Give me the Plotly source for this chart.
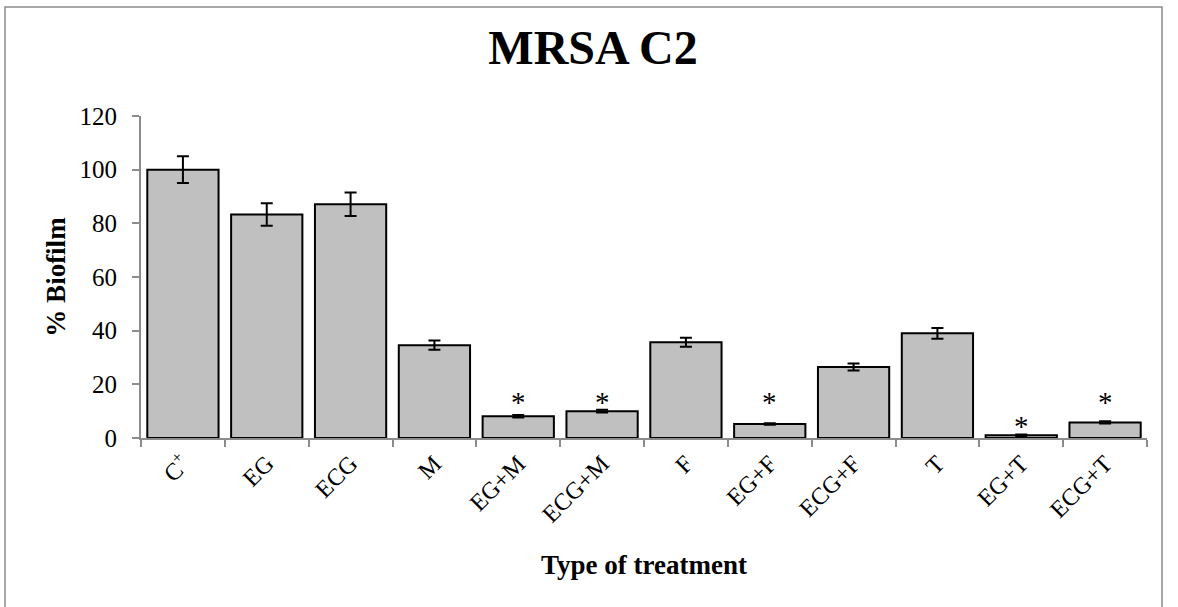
import plotly.graph_objects as go

# Biofilm formation (% of positive control) per treatment
treatments = ["C+", "EG", "ECG", "M", "EG+M", "ECG+M", "F", "EG+F", "ECG+F", "T", "EG+T", "ECG+T"]
tick_text = ["C<sup>+</sup>", "EG", "ECG", "M", "EG+M", "ECG+M", "F", "EG+F", "ECG+F", "T", "EG+T", "ECG+T"]
biofilm = [100, 83.3, 87.1, 34.6, 8.1, 10.0, 35.7, 5.2, 26.5, 39.0, 1.0, 5.8]
sd = [5.0, 4.2, 4.4, 1.7, 0.5, 0.5, 1.7, 0.3, 1.3, 2.0, 0.3, 0.4]

# Significance markers (treatment, height of the asterisk)
sig_treatments = ["EG+M", "ECG+M", "EG+F", "EG+T", "ECG+T"]
sig_heights = [15.3, 15.3, 15.3, 6.5, 15.3]

y_ticks = [0, 20, 40, 60, 80, 100, 120]

W, H = 1178, 607
L, R, T, B = 141, 31, 116, 169
pw, ph = W - L - R, H - T - B

serif = "Liberation Serif, Times New Roman, serif"

fig = go.Figure()
fig.add_trace(go.Bar(
    x=treatments, y=biofilm,
    marker=dict(color="#c0c0c0", line=dict(color="black", width=2)),
    error_y=dict(type="data", array=sd, visible=True, color="black", thickness=2, width=6),
    width=0.85,
))

for t, h in zip(sig_treatments, sig_heights):
    # the asterisk glyph sits high in its line box, so nudge it down to centre it on h
    fig.add_annotation(x=t, y=h, text="*", showarrow=False, yshift=-5,
                       font=dict(family=serif, size=29, color="black"), yanchor="middle")

# Outer chart frame
def px_x(p):
    return (p - L) / pw

def px_y(p):
    return (H - B - p) / ph

fig.add_shape(type="rect", xref="paper", yref="paper",
              x0=px_x(5), x1=px_x(1162), y0=px_y(640), y1=px_y(7),
              line=dict(color="#8c8c8c", width=1.5), fillcolor="rgba(0,0,0,0)", layer="below")

fig.update_layout(
    width=W, height=H,
    margin=dict(l=L, r=R, t=T, b=B, autoexpand=False),
    paper_bgcolor="white", plot_bgcolor="white",
    showlegend=False,
    title=dict(text="<b>MRSA C2</b>", x=px_x(593), xref="paper", y=1 - 47 / H, yanchor="middle",
               xanchor="center", font=dict(family=serif, size=48, color="black")),
    font=dict(family=serif, color="black"),
)

fig.update_xaxes(
    tickvals=treatments, ticktext=tick_text,
    showline=True, linecolor="#8c8c8c", linewidth=2,
    ticks="outside", tickson="boundaries", tickcolor="#8c8c8c", ticklen=7, tickwidth=2,
    tickangle=-45, tickfont=dict(family=serif, size=24, color="black"),
    title=dict(text="<b>Type of treatment</b>", font=dict(family=serif, size=27, color="black"), standoff=29),
    showgrid=False,
)
fig.update_yaxes(
    range=[0, 120], tickvals=y_ticks,
    showline=True, linecolor="#8c8c8c", linewidth=2,
    ticks="outside", tickcolor="#8c8c8c", ticklen=7, tickwidth=2, ticklabelstandoff=10,
    tickfont=dict(family=serif, size=25, color="black"),
    title=dict(text="<b>% Biofilm</b>", font=dict(family=serif, size=27, color="black"), standoff=6),
    showgrid=False, zeroline=False,
)

fig.write_html("out.html")
